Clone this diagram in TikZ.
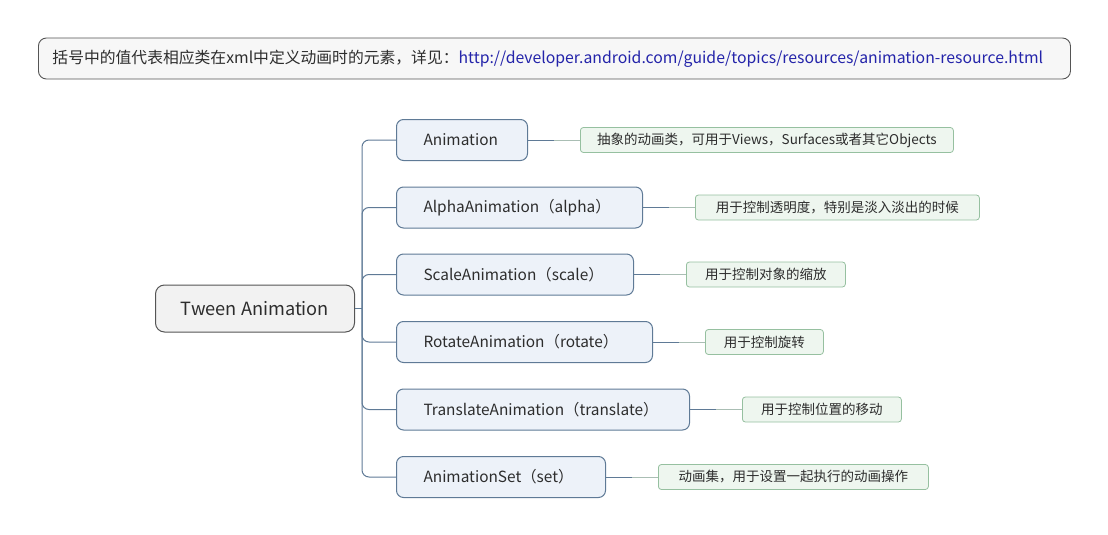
\documentclass[tikz,border=0pt]{standalone}
\usepackage{fontspec}
\setmainfont{Noto Sans CJK SC}
\usetikzlibrary{calc}

\definecolor{framegray}{RGB}{85,85,85}
\definecolor{txtgray}{RGB}{45,45,45}
\definecolor{urlblue}{RGB}{36,36,170}
\definecolor{rootfill}{RGB}{242,242,242}
\definecolor{childfill}{RGB}{237,242,249}
\definecolor{childline}{RGB}{95,122,150}
\definecolor{notefill}{RGB}{238,246,239}
\definecolor{noteline}{RGB}{150,192,160}
\definecolor{fadeline}{RGB}{170,190,180}

\tikzset{
  topbox/.style={draw=framegray, fill=white!97!black, line width=0.9pt, rounded corners=8pt,
    anchor=west, minimum width=1032pt, minimum height=41pt, inner xsep=14pt,
    text=txtgray, font=\fontsize{15.8}{18}\selectfont},
  rootbox/.style={draw=framegray, fill=rootfill, line width=1pt, rounded corners=9pt,
    anchor=west, minimum width=199pt, minimum height=47pt,
    text=txtgray, font=\fontsize{18.2}{21}\selectfont},
  childbox/.style={draw=childline, fill=childfill, line width=1pt, rounded corners=7pt,
    anchor=west, minimum height=41pt, inner xsep=27pt, align=left,
    text=txtgray, font=\fontsize{15.4}{18}\selectfont},
  notebox/.style={draw=noteline, fill=notefill, line width=0.8pt, rounded corners=3pt,
    anchor=west, minimum height=25pt, inner xsep=2pt,
    text=txtgray, font=\fontsize{13.5}{16}\selectfont},
  trunk/.style={draw=childline, line width=1pt, rounded corners=7pt},
  fade/.style={draw=fadeline, line width=1pt}
}

\begin{document}
\begin{tikzpicture}[x=1pt, y=-1pt]
  \useasboundingbox (0,0) rectangle (1108,535);

  % header with the note on the brackets
  \node[topbox] (head) at (38,58.5) {\makebox[1004pt][l]{括号中的值代表相应类在xml中定义动画时的元素，详见：\textcolor{urlblue}{http://developer.android.com/guide/topics/resources/animation-resource.html}}};

  % root
  \node[rootbox] (tween) at (155,308.5) {Tween Animation};

  % subclasses (text starts at the same x in every box)
  \node[childbox, text width=77pt]  (anim)  at (396,140) {Animation};
  \node[childbox, text width=192pt] (alpha) at (396,207.5) {AlphaAnimation（alpha）};
  \node[childbox, text width=183pt] (scale) at (396,274.5) {ScaleAnimation（scale）};
  \node[childbox, text width=202pt] (rot)   at (396,342) {RotateAnimation（rotate）};
  \node[childbox, text width=239pt] (trans) at (396,409.5) {TranslateAnimation（translate）};
  \node[childbox, text width=155pt] (set)   at (396,477) {AnimationSet（set）};

  % descriptions
  \node[notebox, minimum width=373pt] (animN)  at (580,140) {抽象的动画类，可用于Views，Surfaces或者其它Objects};
  \node[notebox, minimum width=284pt] (alphaN) at (695,207.5) {用于控制透明度，特别是淡入淡出的时候};
  \node[notebox, minimum width=159pt] (scaleN) at (686,274.5) {用于控制对象的缩放};
  \node[notebox, minimum width=118pt] (rotN)   at (705,342) {用于控制旋转};
  \node[notebox, minimum width=159pt] (transN) at (742,409.5) {用于控制位置的移动};
  \node[notebox, minimum width=270pt] (setN)   at (658,477) {动画集，用于设置一起执行的动画操作};

  % tree lines
  \coordinate (hub) at (362,308.5);
  \draw[trunk] (tween.east) -- (hub);
  \foreach \c in {anim,alpha,scale,rot,trans,set}{
    \draw[trunk] (hub) |- (\c.west);
    % dark half, then the pale half
    \draw[trunk] (\c.east) -- ($(\c.east)!0.5!(\c N.west)$) coordinate (m\c);
    \draw[fade] (m\c) -- (\c N.west);
  }
\end{tikzpicture}
\end{document}
